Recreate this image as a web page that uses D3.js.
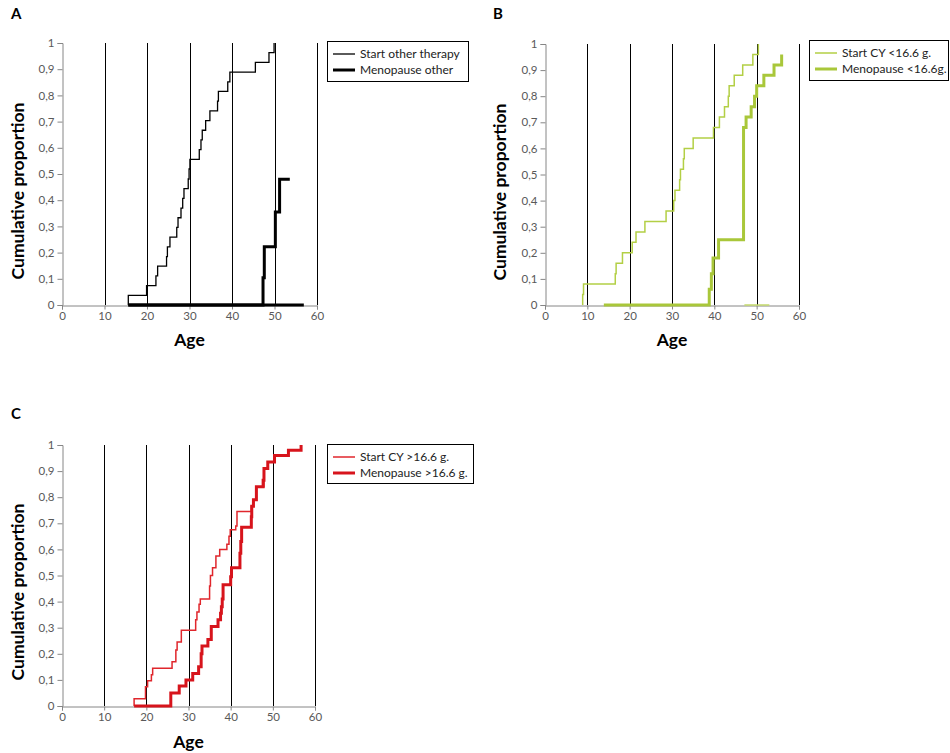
<!DOCTYPE html>
<html><head><meta charset="utf-8">
<script src="https://cdn.jsdelivr.net/npm/d3@7/dist/d3.min.js"></script>
<style>
body{margin:0;background:#fff;}
svg{display:block;font-family:Lato,"Open Sans",sans-serif;}
</style></head>
<body>
<svg id="chart" width="950" height="753"></svg>
<script>
// ---------- DATA ----------
const xTicks = [0, 10, 20, 30, 40, 50, 60];
const yTicks = [0, 0.1, 0.2, 0.3, 0.4, 0.5, 0.6, 0.7, 0.8, 0.9, 1];
const yTickLabels = ["0", "0,1", "0,2", "0,3", "0,4", "0,5", "0,6", "0,7", "0,8", "0,9", "1"];
const gridAges = [10, 20, 30, 40, 50, 60];

// Panel A
const aStartAge = [15.6, 15.6, 19.9, 22.1, 22.5, 24.6, 24.8, 25.4, 27.0, 27.3, 28.0, 28.4, 28.7, 29.7, 29.9, 30.1, 32.3, 32.7, 33.0, 33.8, 34.8, 36.6, 36.8, 39.0, 39.5, 45.5, 48.7, 49.9];
const aStartProp = [0, 0.037, 0.074, 0.111, 0.148, 0.185, 0.222, 0.259, 0.296, 0.333, 0.370, 0.407, 0.444, 0.481, 0.519, 0.556, 0.593, 0.630, 0.667, 0.704, 0.741, 0.778, 0.815, 0.852, 0.889, 0.926, 0.963, 1.0];
const aMenoAge = [15.6, 47.3, 47.6, 50.2, 51.2, 53.6];
const aMenoProp = [0, 0.104, 0.222, 0.355, 0.48, 0.48];
const aMenoZeroAge = [15.6, 56.9];

// Panel B
const bStartAge = [8.9, 8.9, 9.1, 16.6, 16.8, 18.3, 20.6, 21.5, 23.6, 28.6, 30.4, 30.7, 31.8, 32.0, 32.7, 32.9, 35.0, 39.8, 41.2, 42.4, 43.3, 43.5, 44.7, 46.7, 49.1, 50.4];
const bStartProp = [0, 0.04, 0.08, 0.12, 0.16, 0.20, 0.24, 0.28, 0.32, 0.36, 0.40, 0.44, 0.48, 0.52, 0.56, 0.60, 0.64, 0.68, 0.72, 0.76, 0.80, 0.84, 0.88, 0.92, 0.96, 1.0];
const bStartZeroAge = [47.1, 53.0];
const bMenoAge = [13.9, 38.8, 39.3, 39.7, 41.0, 46.9, 47.5, 48.7, 49.5, 50.0, 51.7, 54.1, 55.9];
const bMenoProp = [0, 0.06, 0.12, 0.18, 0.25, 0.68, 0.72, 0.76, 0.80, 0.84, 0.88, 0.92, 0.96];

// Panel C
const cStartAge = [17.1, 17.1, 19.8, 20.3, 21.2, 21.5, 26.1, 27.0, 27.3, 28.3, 31.7, 32.0, 32.5, 32.8, 35.0, 35.2, 35.7, 36.5, 37.4, 39.1, 39.6, 39.9, 41.2, 41.5, 44.9, 45.4, 46.1, 47.9, 48.8, 50.4, 53.7, 56.7];
const cStartProp = [0, 0.028, 0.074, 0.097, 0.12, 0.145, 0.17, 0.215, 0.245, 0.29, 0.33, 0.36, 0.39, 0.41, 0.46, 0.50, 0.53, 0.575, 0.60, 0.62, 0.65, 0.675, 0.69, 0.745, 0.765, 0.79, 0.84, 0.91, 0.935, 0.96, 0.98, 1.0];
const cMenoAge = [17.1, 25.8, 27.8, 29.4, 31.0, 32.4, 33.0, 33.2, 34.6, 35.4, 37.0, 37.6, 37.8, 38.0, 38.2, 40.0, 40.2, 42.2, 42.4, 42.6, 44.9, 45.0, 45.4, 46.1, 47.7, 47.9, 48.8, 50.4, 53.7, 56.7];
const cMenoProp = [0, 0.05, 0.077, 0.10, 0.125, 0.15, 0.20, 0.23, 0.255, 0.305, 0.33, 0.355, 0.38, 0.41, 0.465, 0.495, 0.53, 0.585, 0.63, 0.685, 0.725, 0.765, 0.79, 0.84, 0.865, 0.91, 0.935, 0.96, 0.98, 1.0];

const legendA = ["Start other therapy", "Menopause other"];
const legendB = ["Start CY <16.6 g.", "Menopause <16.6g."];
const legendC = ["Start CY >16.6 g.", "Menopause >16.6 g."];

// ---------- DRAW ----------
const svg = d3.select("#chart");
const zip = (a, b) => a.map((v, i) => [v, b[i]]);

function panel(cfg) {
  const x = d3.scaleLinear().domain([0, 60]).range([cfg.x0, cfg.x1]);
  const y = d3.scaleLinear().domain([0, 1]).range([cfg.yb, cfg.yt]);
  const g = svg.append("g");

  // vertical grid lines
  g.selectAll("line.grid").data(gridAges).join("line")
    .attr("x1", d => Math.round(x(d)) + 0.5).attr("x2", d => Math.round(x(d)) + 0.5)
    .attr("y1", y(1)).attr("y2", y(0))
    .attr("stroke", "#000").attr("stroke-width", 1);

  // axes
  const ax = g.append("g").attr("transform", `translate(0,${Math.round(y(0)) + 0.5})`)
    .call(d3.axisBottom(x).tickValues(xTicks).tickSize(4).tickPadding(2).tickFormat(d3.format("d")));
  const ay = g.append("g").attr("transform", `translate(${Math.round(x(0)) + 0.5},0)`)
    .call(d3.axisLeft(y).tickValues(yTicks).tickSize(5).tickPadding(3).tickFormat((d, i) => yTickLabels[i]));
  [ax, ay].forEach(a => {
    a.select(".domain").attr("stroke", "#868686");
    a.selectAll(".tick line").attr("stroke", "#868686");
    a.selectAll(".tick text").attr("fill", "#595959").style("font-size", "11.5px").style("font-family", "Lato, sans-serif");
  });

  const line = d3.line().x(d => x(d[0])).y(d => y(d[1])).curve(d3.curveStepAfter);
  cfg.series.forEach(s => {
    g.append("path").datum(s.data).attr("d", line)
      .attr("fill", "none").attr("stroke", s.color).attr("stroke-width", s.w)
      .attr("stroke-linejoin", "miter").attr("stroke-linecap", "butt");
  });

  // labels
  g.append("text").attr("x", cfg.letterX).attr("y", cfg.letterY).text(cfg.letter)
    .style("font-size", "15px").style("font-weight", "bold").attr("fill", "#000");
  g.append("text").attr("transform", `translate(${cfg.ylabX},${cfg.ylabY}) rotate(-90)`)
    .attr("text-anchor", "middle").text("Cumulative proportion")
    .style("font-size", "17.5px").style("font-weight", "bold").attr("fill", "#000");
  g.append("text").attr("x", (x(0) + x(60)) / 2).attr("y", cfg.xlabY).attr("text-anchor", "middle")
    .text("Age").style("font-size", "17.5px").style("font-weight", "bold").attr("fill", "#000");

  // legend
  const L = cfg.legend;
  g.append("rect").attr("x", L.x + 0.5).attr("y", L.y + 0.5).attr("width", L.w).attr("height", L.h)
    .attr("fill", "#fff").attr("stroke", "#000").attr("stroke-width", 1);
  L.items.forEach((t, i) => {
    const yy = L.y + 13 + i * 16;
    g.append("line").attr("x1", L.x + 6).attr("x2", L.x + 28).attr("y1", yy).attr("y2", yy)
      .attr("stroke", L.colors[i]).attr("stroke-width", L.widths[i]);
    g.append("text").attr("x", L.x + 33).attr("y", yy + 4).text(t)
      .style("font-size", "12px").attr("fill", "#222");
  });
}

panel({
  x0: 62, x1: 317, yb: 305, yt: 43,
  letter: "A", letterX: 11, letterY: 19, ylabX: 24, ylabY: 191, xlabY: 346,
  series: [
    { data: zip(aMenoZeroAge, [0, 0]), color: "#000", w: 3 },
    { data: zip(aStartAge, aStartProp), color: "#000", w: 1.3 },
    { data: zip(aMenoAge, aMenoProp), color: "#000", w: 3 }
  ],
  legend: { x: 327, y: 41, w: 141, h: 40, items: legendA, colors: ["#000", "#000"], widths: [1.3, 3] }
});

panel({
  x0: 545, x1: 799, yb: 305, yt: 44,
  letter: "B", letterX: 493, letterY: 19, ylabX: 506, ylabY: 192, xlabY: 346,
  series: [
    { data: zip(bStartZeroAge, [0, 0]), color: "#c3d96b", w: 1.5 },
    { data: zip(bMenoAge, bMenoProp), color: "#a9c73a", w: 3 },
    { data: zip(bStartAge, bStartProp), color: "#b3cf45", w: 1.5 }
  ],
  legend: { x: 809, y: 40, w: 139, h: 40, items: legendB, colors: ["#b3cf45", "#a9c73a"], widths: [1.5, 3] }
});

panel({
  x0: 62, x1: 315, yb: 706, yt: 445,
  letter: "C", letterX: 11, letterY: 419, ylabX: 24, ylabY: 592, xlabY: 748,
  series: [
    { data: zip(cStartAge, cStartProp), color: "#e0262c", w: 1.5 },
    { data: zip(cMenoAge, cMenoProp), color: "#d7141c", w: 3 }
  ],
  legend: { x: 327, y: 444, w: 146, h: 39, items: legendC, colors: ["#e0262c", "#d7141c"], widths: [1.5, 3] }
});
</script>
</body></html>
